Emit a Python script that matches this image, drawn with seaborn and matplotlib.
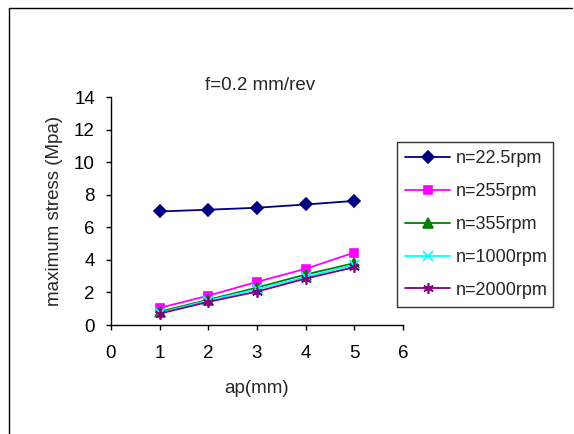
import seaborn as sns
import matplotlib
matplotlib.use("Agg")
from matplotlib import pyplot as plt
from matplotlib.lines import Line2D

# veriler
ap = [1, 2, 3, 4, 5]
s_225 = [6.97, 7.08, 7.2, 7.4, 7.62]
s_255 = [1.05, 1.8, 2.65, 3.45, 4.45]
s_355 = [0.82, 1.55, 2.3, 3.1, 3.8]
s_1000 = [0.75, 1.5, 2.2, 2.95, 3.7]
s_2000 = [0.7, 1.42, 2.05, 2.85, 3.55]
labels = ["n=22.5rpm", "n=255rpm", "n=355rpm", "n=1000rpm", "n=2000rpm"]

sns.set_style("ticks")
plt.rcParams["font.family"] = ["Liberation Sans", "DejaVu Sans"]

renkler = ["#000080", "#FF00FF", "#008000", "#00FFFF", "#800080"]
isaretler = ["D", "s", "^", "x", (6, 2, 0)]
boyutlar = [5.8, 6.3, 6.8, 6.8, 7.5]
seriler = [s_225, s_255, s_355, s_1000, s_2000]

fig = plt.figure(figsize=(5.74, 4.34), dpi=100)
ax = fig.add_axes([111 / 574, 1 - 325 / 434, 292 / 574, 228 / 434])

# her seri ayrı çiziliyor (dolu ve çizgi marker karışık olduğu için)
for y, lab, c, m, ms in zip(seriler, labels, renkler, isaretler, boyutlar):
    sns.lineplot(x=ap, y=y, color=c, marker=m, markersize=ms,
                 markeredgecolor=c, markerfacecolor=c, markeredgewidth=1.2,
                 linewidth=1.3, label=lab, ax=ax)

ax.set_xlim(0, 6)
ax.set_ylim(0, 14)
ax.set_xticks(range(0, 7))
ax.set_yticks(range(0, 15, 2))
ax.tick_params(direction="out", length=3.6, width=1, labelsize=13.5, colors="black")
ax.tick_params(axis="y", pad=8)
ax.tick_params(axis="x", pad=11)
for sp in ["left", "bottom"]:
    ax.spines[sp].set_linewidth(1)
    ax.spines[sp].set_color("black")
sns.despine(ax=ax)
ax.set_xlabel("ap(mm)", fontsize=13.5, labelpad=13)
ax.set_ylabel("maximum stress (Mpa)", fontsize=13.5, labelpad=8)

fig.text(260 / 574, 1 - 85 / 434, "f=0.2 mm/rev", ha="center", va="center", fontsize=13.5)

leg = ax.legend(loc="center left", bbox_to_anchor=(397 / 574, 1 - 306 / 434, 156 / 574, 163 / 434),
                bbox_transform=fig.transFigure, mode="expand", fontsize=13,
                frameon=True, fancybox=False, edgecolor="black",
                handlelength=2.5, labelspacing=0.88, borderpad=0.45,
                handletextpad=0.28, borderaxespad=0)
leg.get_frame().set_linewidth(1)

# dış çerçeve (sadece sol ve üst kenar görünüyor)
fig.add_artist(Line2D([9 / 574, 9 / 574], [0, 1 - 8 / 434], transform=fig.transFigure,
                      color="black", linewidth=1))
fig.add_artist(Line2D([9 / 574, 572 / 574], [1 - 8 / 434, 1 - 8 / 434], transform=fig.transFigure,
                      color="black", linewidth=1))

fig.savefig("out.png", dpi=100)
